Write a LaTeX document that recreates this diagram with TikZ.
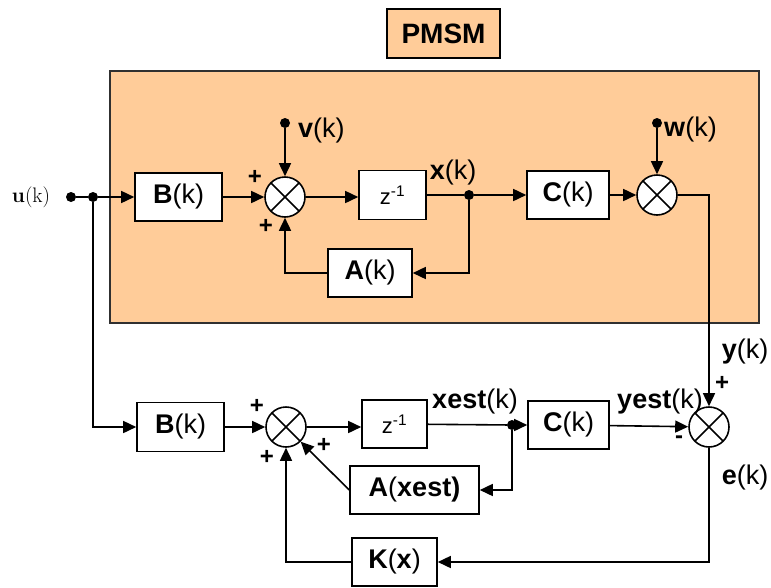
\documentclass[tikz,border=0pt]{standalone}
\usepackage{fontspec}
\newfontfamily\arialfont{Liberation Sans}
\usetikzlibrary{positioning,calc,arrows.meta}
\definecolor{pmsmFill}{HTML}{FFCC99}
\definecolor{pmsmLine}{HTML}{303030}

\tikzset{
  blk/.style={draw, fill=white, line width=1.6pt, minimum width=#1,
    minimum height=48pt, inner sep=0pt,
    font=\arialfont\fontsize{27}{30}\selectfont},
  blk/.default=86pt,
  summ/.style={circle, draw, fill=white, line width=1.6pt, minimum size=40pt,
    inner sep=0pt, path picture={
      \draw[line width=1.6pt]
        (path picture bounding box.north west) -- (path picture bounding box.south east)
        (path picture bounding box.north east) -- (path picture bounding box.south west);}},
  wire/.style={line width=1.6pt},
  sig/.style={wire, -{Triangle[length=13pt,width=12pt]}},
  tap/.style={circle, fill=black, inner sep=0pt, minimum size=10pt},
  lbl/.style={font=\arialfont\fontsize{27}{30}\selectfont, inner sep=0pt},
  sgn/.style={font=\arialfont\bfseries\fontsize{24}{26}\selectfont, inner sep=0pt}
}

\begin{document}
\begin{tikzpicture}[x=1pt, y=-1pt]

\useasboundingbox (0,0) rectangle (771,587);

% --- PMSM PLANT ---
\node[draw=pmsmLine, fill=pmsmFill, line width=2.6pt, inner sep=0pt,
  minimum width=649pt, minimum height=252pt] (plant) at (434.5,197) {};
\node[blk=113pt, fill=pmsmFill, minimum height=49pt,
  font=\arialfont\bfseries\fontsize{28}{30}\selectfont] (pmsm) at (443.5,33.5) {PMSM};

% --- INPUT ---
\node[inner sep=0pt, font=\fontsize{21}{23}\selectfont] (ulbl) at (31,197) {\textbf{u}(k)};
\node[tap] (u0) at (71,197) {};
\node[tap] (u1) at (93,197) {};

% --- UPPER ROW (plant) ---
\node[blk=87pt] (Bup) at (178.5,197) {\textbf{B}(k)};
\node[summ] (sum1) at (285,197) {};
\node[blk=67pt, minimum height=49pt] (zup) at (392.5,195)
  {\fontsize{22}{24}\selectfont z\textsuperscript{-1}};
\node[tap] (xup) at (469,195) {};
\node[blk=82pt] (Cup) at (568,195) {\textbf{C}(k)};
\node[summ] (sum2) at (657,195) {};
\node[blk=84pt] (Aup) at (370,273) {\textbf{A}(k)};
\node[tap] (vdot) at (285,123) {};
\node[tap] (wdot) at (657,123) {};

% --- LOWER ROW (observer) ---
\node[blk=87pt, minimum height=49pt] (Blo) at (180.5,427) {\textbf{B}(k)};
\node[summ] (sum3) at (286,427) {};
\node[blk=65pt] (zlo) at (394.5,424)
  {\fontsize{22}{24}\selectfont z\textsuperscript{-1}};
\node[tap] (xlo) at (512,425) {};
\node[blk=81pt] (Clo) at (568.5,425) {\textbf{C}(k)};
\node[summ] (sum4) at (709,427) {};
\node[blk=129pt] (Alo) at (414.5,490) {\textbf{A}(\textbf{xest)}};
\node[blk=85pt] (Kgain) at (394.5,562) {\textbf{K}(\textbf{x})};

% --- SIGNAL LABELS ---
\node[lbl, anchor=west] (vlbl) at (298,131) {\textbf{v}(k)};
\node[lbl, anchor=west] (wlbl) at (664,130) {\textbf{w}(k)};
\node[lbl] (xlbl) at (453,173) {\textbf{x}(k)};
\node[lbl] (xestlbl) at (475,402) {\textbf{xest}(k)};
\node[lbl] (yestlbl) at (660,402) {\textbf{yest}(k)};
\node[lbl] (ylbl) at (745,352) {\textbf{y}(k)};
\node[lbl] (elbl) at (745,478) {\textbf{e}(k)};

% --- SIGNS ---
\node[sgn] (p1) at (255,177) {+};
\node[sgn] (p2) at (266,226) {+};
\node[sgn] (p3) at (257,406) {+};
\node[sgn] (p4) at (267,457) {+};
\node[sgn] (p5) at (324,445) {+};
\node[sgn] (p6) at (722,383) {+};
\node[sgn] (m1) at (679,440) {-};

% --- PLANT CONNECTIONS ---
\draw[wire] (u0) -- (u1);
\draw[sig] (u1) -- (Bup);
\draw[sig] (Bup) -- (sum1);
\draw[sig] (sum1) -- (sum1 -| zup.west);
\draw[wire] (zup) -- (xup);
\draw[sig] (xup) -- (Cup);
\draw[sig] (Cup) -- (sum2);
\draw[sig] (vdot) -- (sum1);
\draw[sig] (wdot) -- (sum2);
\draw[sig] (xup) |- (Aup);
\draw[sig] (Aup) -| (sum1);
\draw[sig] (sum2) -| (sum4);

% --- OBSERVER CONNECTIONS ---
\draw[sig] (u1) |- (Blo);
\draw[sig] (Blo) -- (sum3);
\draw[sig] (sum3) -- (sum3 -| zlo.west);
\draw[wire] (zlo) -- (xlo);
\draw[sig] (xlo) -- (Clo);
\draw[sig] (xlo) |- (Alo);
\draw[sig] (Alo.west) -- (sum3.south east);
\draw[sig] (Clo) -- (sum4);
\draw[sig] (sum4) |- (Kgain);
\draw[sig] (Kgain) -| (sum3);

\end{tikzpicture}
\end{document}
